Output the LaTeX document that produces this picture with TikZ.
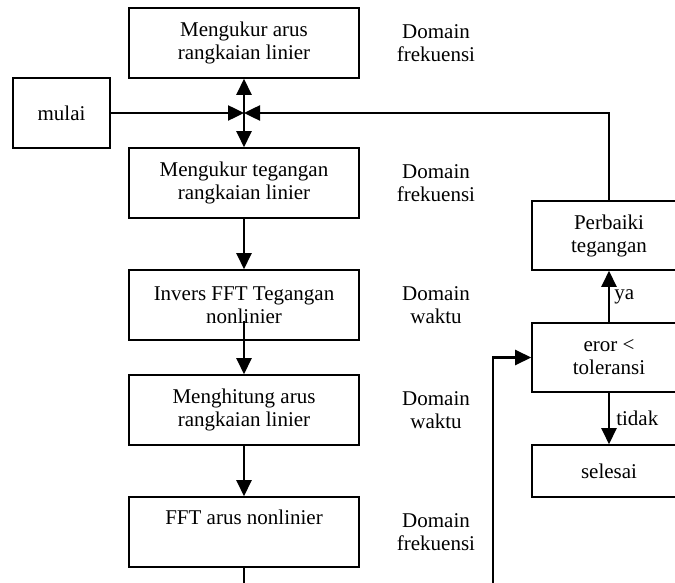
\documentclass[tikz,border=0pt]{standalone}
\usepackage{fontspec}
\setmainfont{Liberation Serif}
\usetikzlibrary{arrows.meta}
\begin{document}
\begin{tikzpicture}[x=1pt,y=-1pt,
  every node/.style={font=\fontsize{21}{23}\selectfont, inner sep=0pt},
  box/.style={draw, line width=1.6pt, minimum width=230pt, minimum height=70pt, align=center},
  sidebox/.style={draw, line width=1.6pt, minimum width=154pt, align=center},
  lbl/.style={align=center},
  conn/.style={line width=2.5pt},
  arr/.style={conn, -{Triangle[length=16pt,width=15pt]}}]
\useasboundingbox (0,0) rectangle (675,583);
\fill[white] (0,0) rectangle (675,583);
\clip (0,0) rectangle (675,583);
% main column
\node[box] (b1) at (244,43) {Mengukur arus\\rangkaian linier};
\node[box] (b2) at (244,183) {Mengukur tegangan\\rangkaian linier};
\node[box] (b3) at (244,305) {Invers FFT Tegangan\\nonlinier};
\node[box] (b4) at (244,410) {Menghitung arus\\rangkaian linier};
\node[box] (b5) at (244,532) {FFT arus nonlinier\\\strut};
\node[draw, line width=1.6pt, minimum width=97pt, minimum height=70pt] (mulai) at (61.5,113) {mulai};
% domain labels
\node[lbl] (d1) at (436,43) {Domain\\frekuensi};
\node[lbl] (d2) at (436,183) {Domain\\frekuensi};
\node[lbl] (d3) at (436,305) {Domain\\waktu};
\node[lbl] (d4) at (436,410) {Domain\\waktu};
\node[lbl] (d5) at (436,532) {Domain\\frekuensi};
% right column
\node[sidebox, minimum height=69pt] (perb) at (609,235.5) {Perbaiki\\tegangan};
\node[sidebox, minimum height=69pt] (eror) at (609,357.5) {eror <\\toleransi};
\node[sidebox, minimum height=52pt] (sel) at (609,471) {selesai};
% connectors
\coordinate (J) at (244,113);
\coordinate (bot1) at (244,590);
\coordinate (bot2) at (493,590);
\draw[arr] (mulai.east) -- (J);
\draw[arr] (perb.north) |- (J);
\draw[arr] (J) -- (b1.south);
\draw[arr] (J) -- (b2.north);
\draw[arr] (b2.south) -- (b3.north);
\draw[arr] ([yshift=20pt]b3.south) -- (b4.north);
\draw[arr] (b4.south) -- (b5.north);
\draw[conn] (b5.south) -- (bot1);
\draw[arr] (bot2) |- (eror.west);
\draw[arr] (eror.north) -- node[right=4pt] (ya) {ya} (perb.south);
\draw[arr] (eror.south) -- node[right=6pt] (tidak) {tidak} (sel.north);
\end{tikzpicture}
\end{document}
